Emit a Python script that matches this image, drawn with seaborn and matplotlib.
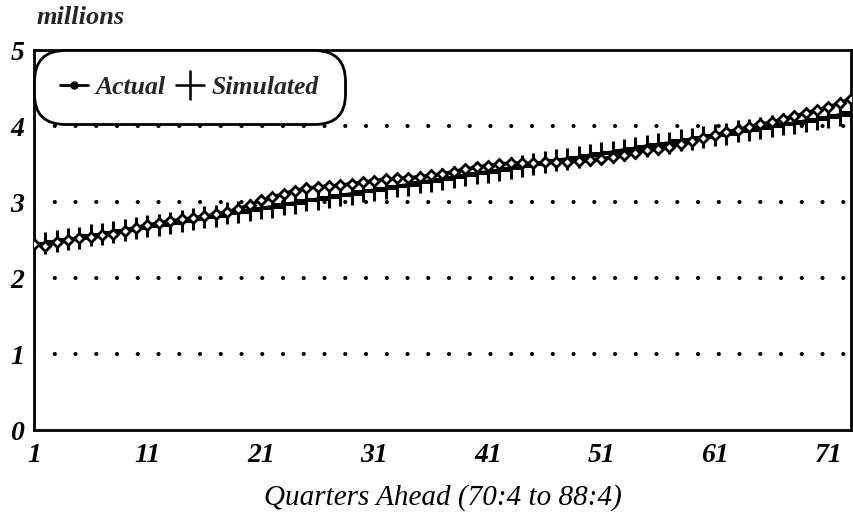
import matplotlib
matplotlib.use("Agg")
import matplotlib.pyplot as plt
import seaborn as sns
import pandas as pd
from matplotlib.lines import Line2D

quarters = list(range(1, 74))
actual = [2.45, 2.42, 2.47, 2.50, 2.52, 2.54, 2.56, 2.58, 2.62, 2.66,
          2.70, 2.72, 2.75, 2.77, 2.79, 2.81, 2.84, 2.87, 2.91, 2.96,
          3.02, 3.06, 3.11, 3.15, 3.18, 3.20, 3.21, 3.22, 3.24, 3.26,
          3.28, 3.30, 3.31, 3.32, 3.33, 3.35, 3.37, 3.40, 3.43, 3.46,
          3.48, 3.50, 3.51, 3.51, 3.51, 3.52, 3.52, 3.53, 3.54, 3.55,
          3.57, 3.59, 3.62, 3.65, 3.68, 3.70, 3.73, 3.76, 3.80, 3.84,
          3.88, 3.92, 3.95, 3.99, 4.02, 4.05, 4.09, 4.13, 4.17, 4.21,
          4.25, 4.30, 4.36]
simulated = [2.44, 2.46, 2.49, 2.51, 2.53, 2.56, 2.58, 2.61, 2.63, 2.66,
             2.68, 2.70, 2.73, 2.75, 2.78, 2.80, 2.82, 2.85, 2.87, 2.90,
             2.92, 2.94, 2.97, 2.99, 3.02, 3.04, 3.06, 3.09, 3.11, 3.14,
             3.16, 3.18, 3.21, 3.23, 3.26, 3.28, 3.30, 3.33, 3.35, 3.38,
             3.40, 3.42, 3.45, 3.47, 3.50, 3.52, 3.55, 3.57, 3.59, 3.62,
             3.64, 3.66, 3.69, 3.71, 3.74, 3.76, 3.78, 3.81, 3.83, 3.86,
             3.88, 3.90, 3.93, 3.95, 3.97, 4.00, 4.02, 4.04, 4.07, 4.09,
             4.12, 4.15, 4.18]
x_ticks = [1, 11, 21, 31, 41, 51, 61, 71]
y_ticks = [0, 1, 2, 3, 4, 5]

sns.set_theme(style="white")
plt.rcParams['font.family'] = ['Liberation Serif', 'DejaVu Serif']

df = pd.DataFrame({"Quarter": quarters, "Actual": actual, "Simulated": simulated})

fig = plt.figure(figsize=(8.54, 5.17), dpi=100)
ax = fig.add_axes([34/854, 87/517, 817/854, 380/517])

sns.lineplot(data=df, x="Quarter", y="Simulated", ax=ax, color="black",
             linewidth=2.2, marker="+", markersize=16, markeredgewidth=2.2,
             markeredgecolor="black", markerfacecolor="black",
             label="Simulated", zorder=3)
sns.lineplot(data=df, x="Quarter", y="Actual", ax=ax, color="black",
             linewidth=2.6, marker="D", markersize=5.5, markerfacecolor="white",
             markeredgecolor="black", markeredgewidth=2.0,
             label="Actual", zorder=4)

ax.set_xlim(1, 73)
ax.set_ylim(0, 5)
ax.set_xticks(x_ticks)
ax.set_yticks(y_ticks)
ax.set_xticklabels([str(t) for t in x_ticks])
ax.set_yticklabels([str(t) for t in y_ticks])

for yv in [1, 2, 3, 4]:
    ax.axhline(yv, color="black", linewidth=3.0, linestyle=(0, (0.01, 4.97)),
               dash_capstyle="round", zorder=1)

for s in ax.spines.values():
    s.set_visible(True)
    s.set_color("black")
    s.set_linewidth(2.0)

ax.tick_params(axis="both", length=0, labelsize=20, colors="black")
for lab in ax.get_xticklabels() + ax.get_yticklabels():
    lab.set_fontstyle("italic")
    lab.set_fontweight("bold")
ax.tick_params(axis="x", pad=9)
ax.tick_params(axis="y", pad=7)

ax.set_xlabel("Quarters Ahead (70:4 to 88:4)", fontsize=21, fontstyle="italic",
              labelpad=12, color="black")
ax.set_ylabel("")
fig.text(37/854, 1 - 17/517, "millions", fontsize=19, fontstyle="italic",
         fontweight="bold", ha="left", va="center")

h_act = Line2D([], [], color="black", linewidth=2.0, marker="o", markersize=5)
h_sim = Line2D([], [], color="black", linewidth=0, marker="+", markersize=22,
               markeredgewidth=1.8)
leg = ax.legend([h_act, h_sim], ["Actual", "Simulated"], loc="upper left",
                bbox_to_anchor=(0.0, 1.0), ncol=2, frameon=True, fancybox=True,
                handlelength=1.1, handletextpad=0.3, columnspacing=0.4,
                borderpad=1.0, borderaxespad=0.0,
                prop={"family": "Liberation Serif", "style": "italic",
                      "weight": "bold", "size": 18.5})
frame = leg.get_frame()
frame.set_edgecolor("black")
frame.set_linewidth(2.0)
frame.set_facecolor("white")
frame.set_alpha(1)
frame.set_boxstyle("round", pad=0.0, rounding_size=1.2)
leg.set_zorder(10)

fig.savefig("out.png", dpi=100)
